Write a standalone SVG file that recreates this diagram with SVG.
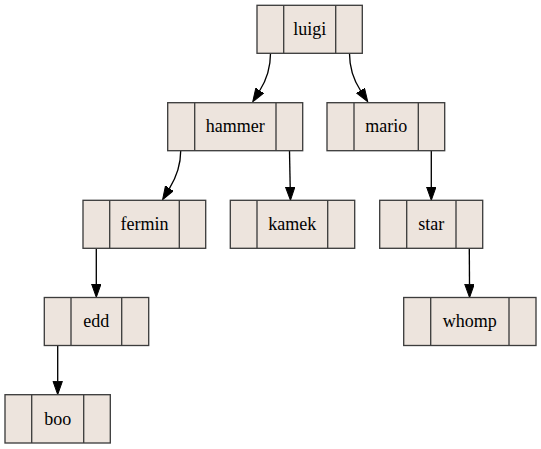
<svg xmlns="http://www.w3.org/2000/svg" width="541" height="449" viewBox="0 0 541 449">
<defs>
<marker id="arr" markerUnits="userSpaceOnUse" markerWidth="16" markerHeight="12" refX="0" refY="5" orient="auto" viewBox="0 0 16 12">
<path d="M0,0.3 L13.3,5 L0,9.7 z" fill="#000" stroke="#000" stroke-width="1"/>
</marker>
<style>
.box{fill:#ede4dd;stroke:#3c3c3c;stroke-width:1.33}
.div{stroke:#3c3c3c;stroke-width:1.33}
.lbl{font-family:'Liberation Serif','Times New Roman','DejaVu Serif',serif;font-size:18px;fill:#000;text-anchor:middle}
.edge{fill:none;stroke:#000;stroke-width:1.33;marker-end:url(#arr)}
</style>
</defs>
<rect width="541" height="449" fill="#fff"/>
<g id="edges">
<path class="edge" d="M270.5,53.5 C270.5,66 267,79 259.8,90.5"/>
<path class="edge" d="M349.5,53.5 C349.5,66 353,79 360.5,90.5"/>
<path class="edge" d="M180.7,151 C180.7,163 177,176 169.5,188.3"/>
<path class="edge" d="M289.5,151 L290.2,187"/>
<path class="edge" d="M431.3,151 L431.3,187"/>
<path class="edge" d="M96.3,248.7 L96.3,284"/>
<path class="edge" d="M57.7,345.7 L57.7,381.3"/>
<path class="edge" d="M469.3,248.7 L469.5,284.3"/>
</g>
<g id="luigi">
<rect class="box" x="257" y="5.3" width="105.3" height="48"/>
<line class="div" x1="283.7" y1="5.3" x2="283.7" y2="53.3"/>
<line class="div" x1="335.7" y1="5.3" x2="335.7" y2="53.3"/>
<text class="lbl" font-family="Liberation Serif, serif" x="309.7" y="35">luigi</text>
</g>
<g id="hammer">
<rect class="box" x="167.7" y="102.7" width="135" height="48"/>
<line class="div" x1="194.7" y1="102.7" x2="194.7" y2="150.7"/>
<line class="div" x1="276" y1="102.7" x2="276" y2="150.7"/>
<text class="lbl" font-family="Liberation Serif, serif" x="235.3" y="132.4">hammer</text>
</g>
<g id="mario">
<rect class="box" x="327" y="102.7" width="117.7" height="48"/>
<line class="div" x1="354" y1="102.7" x2="354" y2="150.7"/>
<line class="div" x1="418.3" y1="102.7" x2="418.3" y2="150.7"/>
<text class="lbl" font-family="Liberation Serif, serif" x="386.2" y="132.4">mario</text>
</g>
<g id="fermin">
<rect class="box" x="83" y="200.3" width="122.7" height="48"/>
<line class="div" x1="109.7" y1="200.3" x2="109.7" y2="248.3"/>
<line class="div" x1="179.3" y1="200.3" x2="179.3" y2="248.3"/>
<text class="lbl" font-family="Liberation Serif, serif" x="144.5" y="230">fermin</text>
</g>
<g id="kamek">
<rect class="box" x="230.3" y="200.3" width="124.4" height="48"/>
<line class="div" x1="257" y1="200.3" x2="257" y2="248.3"/>
<line class="div" x1="327.7" y1="200.3" x2="327.7" y2="248.3"/>
<text class="lbl" font-family="Liberation Serif, serif" x="292.3" y="230">kamek</text>
</g>
<g id="star">
<rect class="box" x="379.7" y="200.3" width="103" height="48"/>
<line class="div" x1="406.7" y1="200.3" x2="406.7" y2="248.3"/>
<line class="div" x1="456" y1="200.3" x2="456" y2="248.3"/>
<text class="lbl" font-family="Liberation Serif, serif" x="431.3" y="230">star</text>
</g>
<g id="edd">
<rect class="box" x="44.3" y="297.5" width="104.4" height="48"/>
<line class="div" x1="71" y1="297.5" x2="71" y2="345.5"/>
<line class="div" x1="121.7" y1="297.5" x2="121.7" y2="345.5"/>
<text class="lbl" font-family="Liberation Serif, serif" x="96.3" y="327.2">edd</text>
</g>
<g id="whomp">
<rect class="box" x="403.7" y="297.5" width="132.3" height="48"/>
<line class="div" x1="430.7" y1="297.5" x2="430.7" y2="345.5"/>
<line class="div" x1="509" y1="297.5" x2="509" y2="345.5"/>
<text class="lbl" font-family="Liberation Serif, serif" x="469.8" y="327.2">whomp</text>
</g>
<g id="boo">
<rect class="box" x="5" y="394.7" width="105.3" height="48.3"/>
<line class="div" x1="31.7" y1="394.7" x2="31.7" y2="443"/>
<line class="div" x1="83.7" y1="394.7" x2="83.7" y2="443"/>
<text class="lbl" font-family="Liberation Serif, serif" x="57.7" y="424.5">boo</text>
</g>
</svg>
